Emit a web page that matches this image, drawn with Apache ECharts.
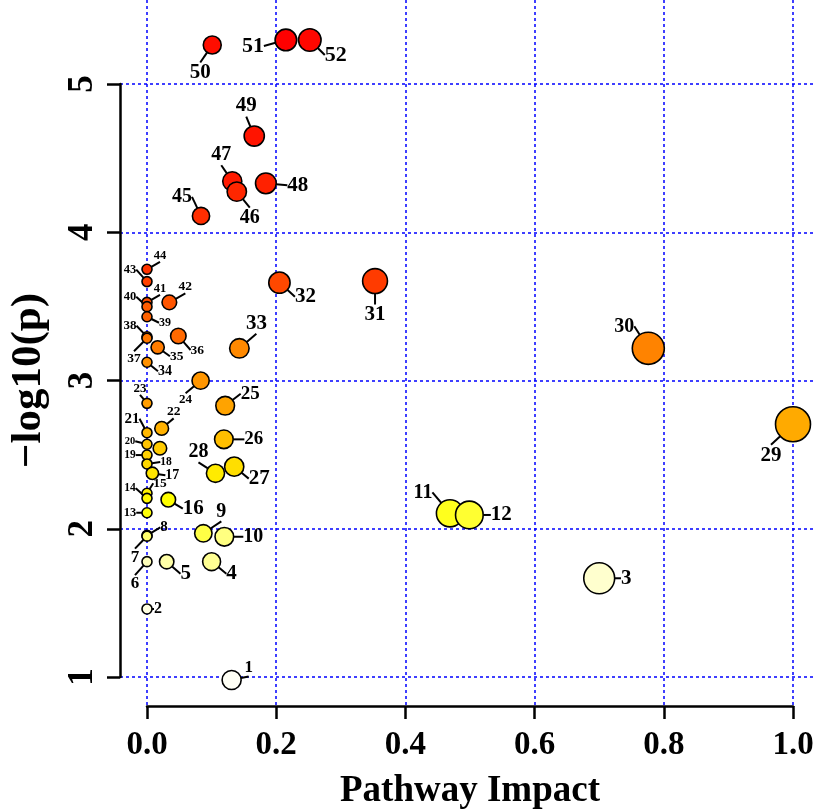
<!DOCTYPE html>
<html>
<head>
<meta charset="utf-8">
<script src="https://cdn.jsdelivr.net/npm/echarts@6/dist/echarts.min.js"></script>
<style>
html,body{margin:0;padding:0;background:#fff;}
#chart{width:814px;height:812px;}
</style>
</head>
<body>
<div id="chart"></div>
<script>
// ---- data ----
const pathwayLabels = ['1','2','3','4','5','6','7','8','9','10','11','12','13','14','15','16','17','18','19','20','21','22','23','24','25','26','27','28','29','30','31','32','33','34','35','36','37','38','39','40','41','42','43','44','45','46','47','48','49','50','51','52',''];
const pathwayImpact = [0.131,0,0.700,0.100,0.0305,0,0,0,0.0872,0.1197,0.469,0.499,0,0,0,0.033,0.0083,0,0,0,0,0.0227,0,0.083,0.121,0.119,0.135,0.106,1.0,0.776,0.353,0.205,0.143,0,0.0165,0.0485,0,0,0,0,0,0.0346,0,0,0.0836,0.139,0.132,0.184,0.166,0.101,0.215,0.252,0.020];
const negLogP = [0.980,1.459,1.666,1.778,1.778,1.778,1.950,1.955,1.969,1.946,2.104,2.093,2.108,2.205,2.239,2.196,2.374,2.437,2.497,2.570,2.648,2.677,2.846,2.999,2.830,2.603,2.419,2.374,2.705,3.217,3.671,3.660,3.217,3.123,3.224,3.300,3.285,3.295,3.430,3.498,3.527,3.527,3.667,3.750,4.110,4.274,4.344,4.330,4.649,5.263,5.297,5.297,2.543];
const xTicks = [0,0.2,0.4,0.6,0.8,1.0];
const yTicks = [1,2,3,4,5];

// ---- label placement style (offset dx, dy, font size) ----
const labelPlacement = [
 [17,-12,17],[11,0,16],[27,0,21],[20,12,21],[19,12,21],[-12,22,17],[-12,21,17],[17,-8,15],[18,-22,20],[29,0,20],
 [-27,-21,20],[32,0,21],[-17,0,12.5],[-17,-10,11.5],[13,-10,13.5],[25,9,21],[20,2,14],[19,-2,11.5],[-17,0,11.5],[-17,-3,10.5],
 [-15,-14,15],[12,-17,13.5],[-7,-15,13],[-15,19,13],[25,-12,19],[30,0,19],[25,12,21],[-17,-21,20],[-22,31,21],[-24,-22,20],
 [0,34,21],[26,14,21],[17,-25,21],[18,9,14],[19,9,13.5],[19,14,13.5],[-13,20,13.5],[-17,-11,13],[18,6,12],[-17,-10,12.5],
 [13,-14,12.5],[16,-16,13.5],[-17,-12,12.5],[13,-14,12.5],[-19,-19,20],[13,26,20],[-11,-26,20],[32,2,21],[-8,-30,21],[-12,28,21],
 [-33,6,22],[26,15,22],[0,0,1]
];

// R heat.colors emulation
function hsv2hex(h,s,v){
  const i=Math.floor(h*6), f=h*6-i, p=v*(1-s), q=v*(1-f*s), t=v*(1-(1-f)*s);
  let r,g,b;
  switch(((i%6)+6)%6){case 0:r=v;g=t;b=p;break;case 1:r=q;g=v;b=p;break;case 2:r=p;g=v;b=t;break;
    case 3:r=p;g=q;b=v;break;case 4:r=t;g=p;b=v;break;default:r=v;g=p;b=q;}
  const hx=x=>Math.round(x*255).toString(16).padStart(2,'0');
  return '#'+hx(r)+hx(g)+hx(b);
}
function heatColors(n){
  const j=Math.floor(n/4), i=n-j, out=[];
  for(let k=0;k<i;k++) out.push(hsv2hex((i>1?k/(i-1):0)/6,1,1));
  const s0=1-1/(2*j), s1=1/(2*j);
  for(let k=0;k<j;k++) out.push(hsv2hex(1/6, j>1? s0-k*(s0-s1)/(j-1) : 0.5, 1));
  return out;
}
const n = negLogP.length;
const order = [...Array(n).keys()].sort((a,b)=>negLogP[b]-negLogP[a]);
const palette = heatColors(n);
const colorOf = new Array(n);
order.forEach((idx,rank)=>{colorOf[idx]=palette[rank];});

const SERIF = 'Liberation Serif';
const seriesData = order.map(idx=>({
  value:[pathwayImpact[idx], negLogP[idx]],
  name: pathwayLabels[idx],
  symbolSize: 10 + 25*Math.sqrt(pathwayImpact[idx]),
  itemStyle:{color:colorOf[idx]},
  label:{show: pathwayLabels[idx] !== ''},
  labelLine:{show: pathwayLabels[idx] !== ''}
}));

const gridLine = {show:true, lineStyle:{color:'#0000ff', width:1.5, type:[3,3]}};
const option = {
  backgroundColor:'#ffffff',
  animation:false,
  grid:[
    {left:147, top:84, width:646, height:593, outerBoundsMode:'none', containLabel:false},
    {left:147, top:0, width:646, height:706, outerBoundsMode:'none', containLabel:false},
    {left:120, top:84, right:0, height:593, outerBoundsMode:'none', containLabel:false}
  ],
  xAxis:[
    {gridIndex:0, type:'value', min:0, max:1, show:false},
    {gridIndex:1, type:'value', min:xTicks[0], max:xTicks[xTicks.length-1], interval:0.2, position:'bottom',
     axisLine:{show:true, lineStyle:{color:'#000', width:2.5}},
     axisTick:{show:true, inside:false, length:13, lineStyle:{color:'#000', width:2.5}},
     axisLabel:{show:true, margin:23, color:'#000', fontFamily:SERIF, fontWeight:'bold', fontSize:33,
       formatter:v=>v.toFixed(1)},
     splitLine:gridLine,
     name:'Pathway Impact', nameLocation:'middle', nameGap:67,
     nameTextStyle:{color:'#000', fontFamily:SERIF, fontWeight:'bold', fontSize:37}},
    {gridIndex:2, type:'value', min:0, max:1, show:false}
  ],
  yAxis:[
    {gridIndex:0, type:'value', min:1, max:5, show:false},
    {gridIndex:1, type:'value', min:0, max:1, show:false},
    {gridIndex:2, type:'value', min:yTicks[0], max:yTicks[yTicks.length-1], interval:1, position:'left',
     axisLine:{show:true, lineStyle:{color:'#000', width:2.5}},
     axisTick:{show:true, inside:false, length:13, lineStyle:{color:'#000', width:2.5}},
     axisLabel:{show:true, rotate:90, margin:20, color:'#000', fontFamily:SERIF, fontWeight:'bold', fontSize:35},
     splitLine:gridLine,
     name:'\u2212log10(p)', nameLocation:'middle', nameGap:70, nameRotate:90,
     nameTextStyle:{color:'#000', fontFamily:SERIF, fontWeight:'bold', fontSize:43}}
  ],
  series:[{
    type:'scatter', xAxisIndex:0, yAxisIndex:0, clip:false,
    symbol:'circle',
    itemStyle:{borderColor:'#000', borderWidth:1.6, opacity:1},
    label:{show:true, position:'inside', formatter:'{b}', color:'#000', fontFamily:SERIF, fontWeight:'bold'},
    labelLine:{show:true, lineStyle:{color:'#000', width:2}},
    labelLayout:function(params){
      const pl = labelPlacement[order[params.dataIndex]];
      return {dx:pl[0], dy:pl[1], fontSize:pl[2]};
    },
    emphasis:{disabled:true},
    data:seriesData
  }]
};
const chart = echarts.init(document.getElementById('chart'), null, {renderer:'canvas'});
chart.setOption(option);
</script>
</body>
</html>
